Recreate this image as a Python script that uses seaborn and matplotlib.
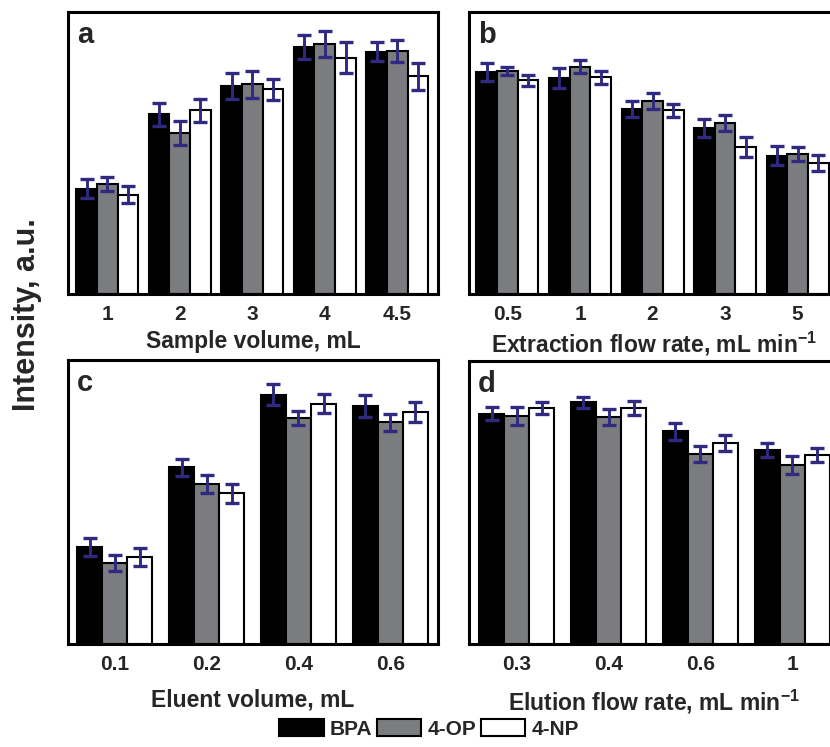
import numpy as np
import pandas as pd
import matplotlib
matplotlib.use("Agg")
import matplotlib.pyplot as plt
from matplotlib.patches import Patch
import seaborn as sns

SERIES = ["BPA", "4-OP", "4-NP"]
COLORS = ["#000000", "#7b7c80", "#ffffff"]
ERR_COLOR = "#2f2a7f"

# a: sample volume
cats_a = ["1", "2", "3", "4", "4.5"]
bpa_a = [37.4, 63.7, 73.7, 87.7, 85.9]
op_a = [39.1, 57.0, 74.3, 88.8, 86.1]
np_a = [35.2, 65.1, 72.6, 83.8, 77.2]
bpa_err_a = [3.5, 4.2, 4.7, 4.3, 3.4]
op_err_a = [2.5, 4.2, 4.8, 4.6, 4.0]
np_err_a = [3.1, 4.0, 3.7, 5.6, 4.7]

# b: extraction flow rate
cats_b = ["0.5", "1", "2", "3", "5"]
bpa_b = [78.8, 76.7, 65.7, 58.8, 49.1]
op_b = [79.0, 80.6, 68.4, 60.6, 49.5]
np_b = [75.8, 76.8, 65.1, 52.1, 46.4]
bpa_err_b = [3.2, 3.5, 2.8, 3.1, 3.4]
op_err_b = [1.4, 2.4, 2.8, 2.7, 2.5]
np_err_b = [2.0, 2.4, 2.2, 3.4, 2.8]

# c: eluent volume
cats_c = ["0.1", "0.2", "0.4", "0.6"]
bpa_c = [34.1, 62.2, 87.7, 83.9]
op_c = [28.5, 56.2, 79.5, 78.0]
np_c = [30.6, 53.0, 84.6, 81.8]
bpa_err_c = [3.1, 2.9, 3.7, 3.8]
op_err_c = [2.9, 3.2, 2.4, 2.9]
np_err_c = [3.2, 3.5, 3.4, 3.5]

# d: elution flow rate
cats_d = ["0.3", "0.4", "0.6", "1"]
bpa_d = [81.4, 85.4, 75.1, 68.6]
op_d = [80.5, 80.2, 67.2, 63.3]
np_d = [83.4, 83.4, 71.0, 66.9]
bpa_err_d = [2.4, 1.9, 3.1, 2.5]
op_err_d = [3.1, 2.7, 2.8, 3.1]
np_err_d = [2.2, 2.5, 2.8, 2.5]

sns.set_style("white")
plt.rcParams["font.family"] = ["Liberation Sans", "DejaVu Sans"]
plt.rcParams["font.weight"] = "bold"
plt.rcParams["axes.labelweight"] = "bold"
plt.rcParams["mathtext.fontset"] = "custom"
plt.rcParams["mathtext.rm"] = "Liberation Sans:bold"
plt.rcParams["mathtext.default"] = "rm"


def draw_panel(ax, cats, vals, errs, letter, xlabel, width, xlim, labelpad):
    df = pd.DataFrame({
        "cat": [c for s in SERIES for c in cats],
        "series": [s for s in SERIES for c in cats],
        "val": [v for series_vals in vals for v in series_vals],
    })
    sns.barplot(data=df, x="cat", y="val", hue="series", order=cats,
                hue_order=SERIES, palette=COLORS, saturation=1, width=width,
                errorbar=None, edgecolor="black", linewidth=1.5,
                legend=False, ax=ax)
    # error bars on top of the bars (bars sorted left to right)
    bars = sorted(ax.patches, key=lambda p: p.get_x())
    flat_err = [e for trio in zip(*errs) for e in trio]
    xs = [p.get_x() + p.get_width() / 2 for p in bars]
    ys = [p.get_height() for p in bars]
    ax.errorbar(xs, ys, yerr=flat_err, fmt="none", ecolor=ERR_COLOR,
                elinewidth=2.1, capsize=5, capthick=2.4, zorder=5)
    ax.set_xlim(*xlim)
    ax.set_ylim(0, 100)
    ax.set_yticks([])
    ax.set_ylabel("")
    ax.set_xlabel(xlabel, fontsize=16.5, labelpad=labelpad)
    ax.tick_params(axis="x", length=0, pad=8, labelsize=15)
    for sp in ax.spines.values():
        sp.set_visible(True)
        sp.set_linewidth(2.2)
        sp.set_color("black")
    ax.text(0.024, 0.89, letter, transform=ax.transAxes, fontsize=21,
            fontweight="bold", va="baseline", ha="left")


W, H = 830, 747
fig = plt.figure(figsize=(8.3, 7.47), dpi=100)
ax_a = fig.add_axes([68 / W, 1 - 294 / H, 370 / W, 282 / H])
ax_b = fig.add_axes([469 / W, 1 - 294 / H, 370 / W, 282 / H])
ax_c = fig.add_axes([68 / W, 1 - 644 / H, 370 / W, 284 / H])
ax_d = fig.add_axes([469 / W, 1 - 644 / H, 370 / W, 283 / H])

draw_panel(ax_a, cats_a, [bpa_a, op_a, np_a], [bpa_err_a, op_err_a, np_err_a],
           "a", "Sample volume, mL", 0.855, (-0.54, 4.56), 4)
draw_panel(ax_b, cats_b, [bpa_b, op_b, np_b], [bpa_err_b, op_err_b, np_err_b],
           "b", r"Extraction flow rate, mL min$^{-1}$", 0.855, (-0.53, 4.57), 4)
draw_panel(ax_c, cats_c, [bpa_c, op_c, np_c], [bpa_err_c, op_err_c, np_err_c],
           "c", "Eluent volume, mL", 0.82, (-0.51, 3.52), 10)
draw_panel(ax_d, cats_d, [bpa_d, op_d, np_d], [bpa_err_d, op_err_d, np_err_d],
           "d", r"Elution flow rate, mL min$^{-1}$", 0.82, (-0.52, 3.51), 10)

fig.text(27 / W, 1 - 315 / H, "Intensity, a.u.", rotation=90, fontsize=22,
         fontweight="bold", ha="center", va="center")

handles = [Patch(facecolor=c, edgecolor="black", linewidth=1.5, label=s)
           for s, c in zip(SERIES, COLORS)]
fig.legend(handles=handles, loc="center", bbox_to_anchor=(429 / W, 1 - 729 / H),
           ncol=3, frameon=False, fontsize=15, handlelength=2.15,
           handleheight=0.85, handletextpad=0.3, columnspacing=0.2,
           borderpad=0.1)

fig.savefig("out.png", dpi=100)
